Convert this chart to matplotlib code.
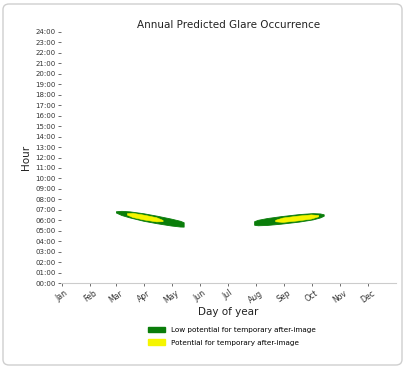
import matplotlib
matplotlib.use("Agg")
import matplotlib.pyplot as plt
from matplotlib.patches import FancyBboxPatch, Patch

# ---- data ----
month_labels = ["Jan", "Feb", "Mar", "Apr", "May", "Jun", "Jul", "Aug", "Sep", "Oct", "Nov", "Dec"]
month_days = [1, 32, 60, 91, 121, 152, 182, 213, 244, 274, 305, 335]
hour_labels = ["%02d:00" % h for h in range(25)]
hour_ticks = list(range(25))

# spring band (low potential, green)
spring_days = [60, 66, 75, 90, 105, 120, 130, 134]
spring_green_lo = [6.74, 6.50, 6.27, 5.95, 5.71, 5.50, 5.40, 5.39]
spring_green_hi = [6.86, 6.90, 6.85, 6.67, 6.43, 6.16, 5.95, 5.81]
# spring band (potential, yellow)
spring_y_days = [72, 78, 90, 104, 111]
spring_y_lo = [6.54, 6.31, 6.08, 5.89, 5.91]
spring_y_hi = [6.68, 6.71, 6.54, 6.29, 6.03]

# autumn band (low potential, green)
autumn_days = [211, 215, 225, 240, 260, 275, 283, 287]
autumn_green_lo = [5.57, 5.52, 5.55, 5.67, 5.87, 6.08, 6.27, 6.43]
autumn_green_hi = [5.91, 6.04, 6.21, 6.39, 6.59, 6.68, 6.65, 6.57]
# autumn band (potential, yellow)
autumn_y_days = [234, 242, 258, 273, 281]
autumn_y_lo = [5.90, 5.84, 5.98, 6.16, 6.38]
autumn_y_hi = [6.04, 6.26, 6.44, 6.56, 6.50]

green = "#0a7d0a"
yellow = "#f5f500"

fig = plt.figure(figsize=(4.07, 3.70), dpi=100)
card = FancyBboxPatch((3 / 407, 5 / 370), 399 / 407, 361 / 370,
                      boxstyle="round,pad=0,rounding_size=0.015",
                      transform=fig.transFigure, facecolor="white",
                      edgecolor="#cfcfcf", linewidth=1.0, zorder=-10)
fig.patches.append(card)

ax = fig.add_axes([61 / 407, (370 - 283) / 370, 335 / 407, 251 / 370])
ax.set_facecolor("none")
ax.set_zorder(1)

ax.fill_between(spring_days, spring_green_lo, spring_green_hi, color=green, linewidth=0.6, edgecolor=green)
ax.fill_between(autumn_days, autumn_green_lo, autumn_green_hi, color=green, linewidth=0.6, edgecolor=green)
ax.fill_between(spring_y_days, spring_y_lo, spring_y_hi, color=yellow, linewidth=0.4, edgecolor=yellow)
ax.fill_between(autumn_y_days, autumn_y_lo, autumn_y_hi, color=yellow, linewidth=0.4, edgecolor=yellow)

ax.set_xlim(0, 366)
ax.set_ylim(0, 24)
ax.set_yticks(hour_ticks)
ax.set_yticklabels(hour_labels, fontsize=5.0, color="#333333")
ax.set_xticks(month_days)
ax.set_xticklabels(month_labels, fontsize=5.6, rotation=35, color="#333333")
ax.tick_params(axis="both", length=2.5, width=0.6, color="#555555", pad=1.5)

for s in ["top", "right", "left"]:
    ax.spines[s].set_visible(False)
ax.spines["bottom"].set_color("#cccccc")
ax.spines["bottom"].set_linewidth(0.8)

ax.set_title("Annual Predicted Glare Occurrence", fontsize=7.5, color="#222222", pad=3)
ax.set_xlabel("Day of year", fontsize=7.5, color="#222222", labelpad=1)
ax.set_ylabel("Hour", fontsize=7.5, color="#222222", labelpad=3)

handles = [Patch(facecolor=green, edgecolor=green, label="Low potential for temporary after-image"),
           Patch(facecolor=yellow, edgecolor=yellow, label="Potential for temporary after-image")]
fig.legend(handles=handles, loc="upper center", bbox_to_anchor=(232 / 407, 50 / 370),
           frameon=False, fontsize=5.2, handlelength=2.4, handleheight=0.8,
           handletextpad=0.8, labelspacing=0.9)

fig.savefig("out.png", dpi=100)
